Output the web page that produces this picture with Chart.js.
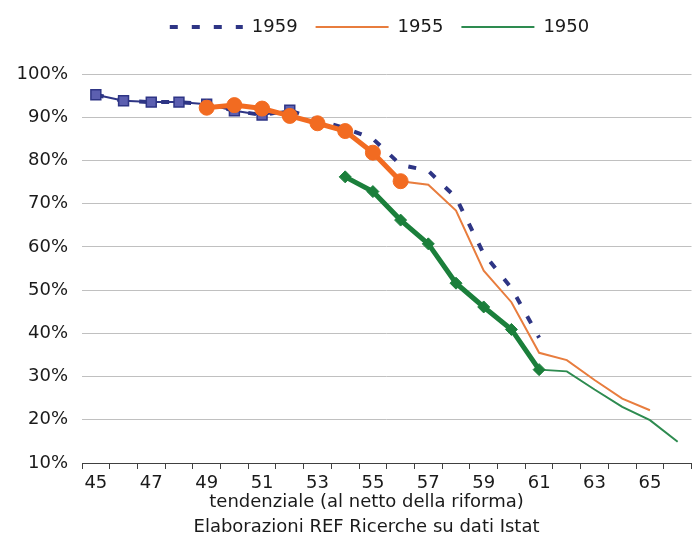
<!DOCTYPE html>
<html>
<head>
<meta charset="utf-8">
<script src="https://cdn.jsdelivr.net/npm/chart.js@4"></script>
<style>
  html, body { margin: 0; padding: 0; background: #fff; overflow: hidden; }
  #wrap { width: 700px; height: 554px; }
</style>
</head>
<body>
<div id="wrap"><canvas id="chart"></canvas></div>
<script>
const ages = ['45', '46', '47', '48', '49', '50', '51', '52', '53', '54', '55',
              '56', '57', '58', '59', '60', '61', '62', '63', '64', '65', '66'];

// linee tendenziali (in legenda)
const tend1959 = [95.2, 93.8, 93.5, 93.5, 93.0, 91.5, 90.5, 91.6, 89.3, 87.5, 85.0,
                  79.0, 77.6, 71.4, 58.4, 50.5, 39.0, null, null, null, null, null];
const tend1955 = [null, null, null, null, 92.2, 92.8, 92.0, 90.3, 88.6, 86.8, 81.8,
                  75.2, 74.4, 68.4, 54.5, 47.2, 35.5, 33.8, 29.2, 24.9, 22.2, null];
const tend1950 = [null, null, null, null, null, null, null, null, null, 76.2, 72.8,
                  66.2, 60.7, 51.6, 46.1, 40.9, 31.6, 31.2, 27.0, 23.0, 19.9, 14.9];

// tratti osservati (con marcatori)
const obs1959 = [95.2, 93.8, 93.5, 93.5, 93.0, 91.5, 90.5, 91.6, null, null, null,
                 null, null, null, null, null, null, null, null, null, null, null];
const obs1955 = [null, null, null, null, 92.2, 92.8, 92.0, 90.3, 88.6, 86.8, 81.8,
                 75.2, null, null, null, null, null, null, null, null, null, null];
const obs1950 = [null, null, null, null, null, null, null, null, null, 76.2, 72.8,
                 66.2, 60.7, 51.6, 46.1, 40.9, 31.6, null, null, null, null, null];

const yTicks = [10, 20, 30, 40, 50, 60, 70, 80, 90, 100];

const navy = '#2e3585';
const orange = '#f26b21';
const green = '#1b7f3b';
const font = { family: 'DejaVu Sans', size: 18 };

// spazio sotto la legenda e piccoli spostamenti orizzontali di legenda e titolo
const tweakLayout = {
    id: 'tweakLayout',
    beforeInit(chart) {
        const fit = chart.legend.fit;
        chart.legend.fit = function () {
            fit.call(this);
            this.height += 28;
        };
    },
    afterLayout(chart) {
        chart.legend.left += 33;
        chart.legend.right += 33;
        chart.titleBlock.left += 20;
        chart.titleBlock.right += 20;
    }
};

new Chart(document.getElementById('chart'), {
    type: 'line',
    plugins: [tweakLayout],
    data: {
        labels: ages,
        datasets: [
            {
                label: 'obs1950', data: obs1950,
                borderColor: green, backgroundColor: green, borderWidth: 5,
                pointStyle: 'rectRot', pointRadius: 6, pointBackgroundColor: green,
                pointBorderColor: green, pointBorderWidth: 1, tension: 0
            },
            {
                label: 'obs1955', data: obs1955,
                borderColor: orange, backgroundColor: orange, borderWidth: 5,
                pointStyle: 'circle', pointRadius: 7.5, pointBackgroundColor: orange,
                pointBorderColor: orange, pointBorderWidth: 1, tension: 0
            },
            {
                label: 'obs1959', data: obs1959,
                borderColor: navy, backgroundColor: '#5c5fb0', borderWidth: 2,
                pointStyle: 'rect', pointRadius: 7, pointBackgroundColor: '#5c5fb0',
                pointBorderColor: navy, pointBorderWidth: 1.5, tension: 0
            },
            {
                label: '1959', data: tend1959,
                borderColor: navy, backgroundColor: navy, borderWidth: 4,
                borderDash: [8, 14], borderCapStyle: 'butt',
                pointRadius: 0, tension: 0
            },
            {
                label: '1955', data: tend1955,
                borderColor: '#e87d3e', backgroundColor: '#e87d3e', borderWidth: 2,
                pointRadius: 0, tension: 0
            },
            {
                label: '1950', data: tend1950,
                borderColor: '#2e8b50', backgroundColor: '#2e8b50', borderWidth: 2,
                pointRadius: 0, tension: 0
            }
        ]
    },
    options: {
        responsive: true,
        maintainAspectRatio: false,
        animation: false,
        layout: { padding: { top: 0, right: 7, left: 0, bottom: 14 } },
        plugins: {
            tooltip: { enabled: false },
            title: {
                display: true,
                position: 'bottom',
                text: ['tendenziale (al netto della riforma)', 'Elaborazioni REF Ricerche su dati Istat'],
                color: '#1a1a1a',
                font: { family: 'DejaVu Sans', size: 18, weight: 'normal', lineHeight: 1.4 },
                padding: { top: -9, bottom: 0 }
            },
            legend: {
                position: 'top',
                labels: {
                    usePointStyle: true,
                    pointStyleWidth: 73,
                    boxHeight: 18,
                    padding: 18,
                    color: '#1a1a1a',
                    font: font,
                    generateLabels: (chart) => chart.data.datasets
                        .map((ds, i) => ({
                            text: ds.label,
                            datasetIndex: i,
                            fillStyle: ds.borderColor,
                            strokeStyle: ds.borderColor,
                            lineWidth: ds.borderWidth,
                            lineDash: ds.borderDash || [],
                            lineCap: 'butt',
                            pointStyle: 'line',
                            fontColor: '#1a1a1a',
                            hidden: false
                        }))
                        .filter(item => item.datasetIndex >= 3)
                }
            }
        },
        scales: {
            x: {
                type: 'category',
                offset: true,
                grid: {
                    offset: true,
                    drawOnChartArea: false,
                    drawTicks: true,
                    tickLength: 6,
                    color: '#404040'
                },
                border: { display: true, color: '#404040', width: 1 },
                ticks: {
                    autoSkip: false,
                    maxRotation: 0,
                    padding: 4,
                    color: '#1a1a1a',
                    font: font,
                    callback: function (value, index) {
                        return index % 2 === 0 ? this.getLabelForValue(value) : '';
                    }
                }
            },
            y: {
                min: yTicks[0],
                max: yTicks[yTicks.length - 1],
                afterBuildTicks: (scale) => {
                    scale.ticks = yTicks.map(v => ({ value: v }));
                },
                afterFit: (scale) => { scale.width = 82; },
                grid: { color: '#c0c0c0', drawTicks: false },
                border: { display: false },
                ticks: {
                    padding: 14,
                    color: '#1a1a1a',
                    font: font,
                    callback: (v) => v + '%'
                }
            }
        }
    }
});
</script>
</body>
</html>
